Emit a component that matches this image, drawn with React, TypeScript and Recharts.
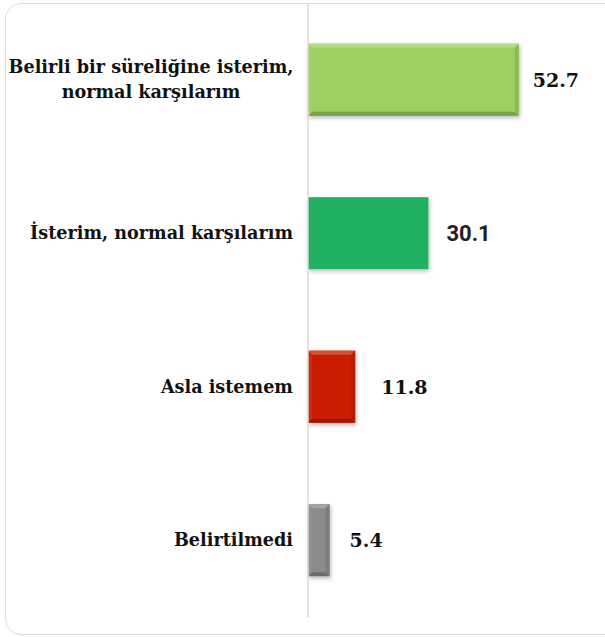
import React from 'react';
import { BarChart, Bar, XAxis, YAxis, LabelList } from 'recharts';

const categories = [
  'Belirli bir süreliğine isterim,\nnormal karşılarım',
  'İsterim, normal karşılarım',
  'Asla istemem',
  'Belirtilmedi',
];
const values = [52.7, 30.1, 11.8, 5.4];
const colors = ['#9bcf5e', '#22b064', '#cc1e00', '#8b8b8b'];
const bevelled = [true, false, true, true];
const labelGaps = [14, 18, 26, 20];

const data = categories.map((name, i) => ({ name, value: values[i], color: colors[i], bevel: bevelled[i] }));

const SERIF = '"DejaVu Serif", serif';

function shade(hex: string, amt: number) {
  const n = parseInt(hex.slice(1), 16);
  const f = (c: number) => Math.max(0, Math.min(255, Math.round(amt > 0 ? c + (255 - c) * amt : c * (1 + amt))));
  const r = f((n >> 16) & 255), g = f((n >> 8) & 255), b = f(n & 255);
  return `rgb(${r},${g},${b})`;
}

const BevelBar = (props: any) => {
  const { x, y, width, height, payload } = props;
  const c = payload.color;
  const b = Math.min(4, width / 4);
  if (!payload.bevel) {
    return <rect x={x} y={y} width={width} height={height} fill={c} filter="url(#barShadow)" />;
  }
  return (
    <g filter="url(#barShadow)">
      <rect x={x} y={y} width={width} height={height} fill={c} />
      <polygon points={`${x},${y} ${x + width},${y} ${x + width - b},${y + b} ${x + b},${y + b}`} fill={shade(c, 0.22)} />
      <polygon points={`${x},${y + height} ${x + width},${y + height} ${x + width - b},${y + height - b} ${x + b},${y + height - b}`} fill={shade(c, -0.22)} />
      <polygon points={`${x},${y} ${x + b},${y + b} ${x + b},${y + height - b} ${x},${y + height}`} fill={shade(c, 0.05)} />
      <polygon points={`${x + width},${y} ${x + width - b},${y + b} ${x + width - b},${y + height - b} ${x + width},${y + height}`} fill={shade(c, -0.1)} />
    </g>
  );
};

const CategoryTick = (props: any) => {
  const { x, y, payload } = props;
  const lines = String(payload.value).split('\n');
  const common = { fontFamily: SERIF, fontWeight: 700, fontSize: 17.6, fill: '#111' };
  if (lines.length === 1) {
    return (
      <text x={x} y={y} dy={6} textAnchor="end" {...common}>
        {lines[0]}
      </text>
    );
  }
  const cx = x - 142;
  return (
    <g>
      {lines.map((l, i) => (
        <text key={i} x={cx} y={y + (i - (lines.length - 1) / 2) * 25} dy={6} textAnchor="middle" {...common}>
          {l}
        </text>
      ))}
    </g>
  );
};

const ValueLabel = (props: any) => {
  const { x, y, width, height, value, index } = props;
  const sans = index === 1;
  return (
    <text
      x={x + width + labelGaps[index]}
      y={y + height / 2}
      dy={sans ? 8 : 7}
      textAnchor="start"
      fontFamily={sans ? 'Roboto, sans-serif' : SERIF}
      fontWeight={700}
      fontSize={sans ? 22 : 19}
      fill={sans ? '#222' : '#111'}
    >
      {value}
    </text>
  );
};

export default function App() {
  return (
    <div style={{ position: 'absolute', left: 0, top: 0, width: 605, height: 637, overflow: 'hidden', background: '#fff' }}>
      <div
        style={{
          position: 'absolute',
          left: 5,
          top: 3,
          width: 640,
          height: 632,
          border: '1px solid #dcdcdc',
          borderRadius: 16,
          boxSizing: 'border-box',
        }}
      />
      <div style={{ position: 'absolute', left: 0, top: 0 }}>
        <BarChart
          width={605}
          height={637}
          data={data}
          layout="vertical"
          margin={{ top: 3, right: 17, bottom: 20, left: 0 }}
          barCategoryGap="26.5%"
        >
          <defs>
            <filter id="barShadow" x="-20%" y="-20%" width="140%" height="150%">
              <feDropShadow dx="1" dy="2" stdDeviation="2" floodColor="#000" floodOpacity="0.28" />
            </filter>
          </defs>
          <XAxis type="number" domain={[0, 70]} hide />
          <YAxis
            type="category"
            dataKey="name"
            width={308}
            axisLine={{ stroke: '#d9d9d9', strokeWidth: 1.5 }}
            tickLine={false}
            tickSize={0}
            tickMargin={15}
            tick={<CategoryTick />}
            interval={0}
          />
          <Bar dataKey="value" shape={<BevelBar />} isAnimationActive={false}>
            <LabelList dataKey="value" content={<ValueLabel />} />
          </Bar>
        </BarChart>
      </div>
    </div>
  );
}
